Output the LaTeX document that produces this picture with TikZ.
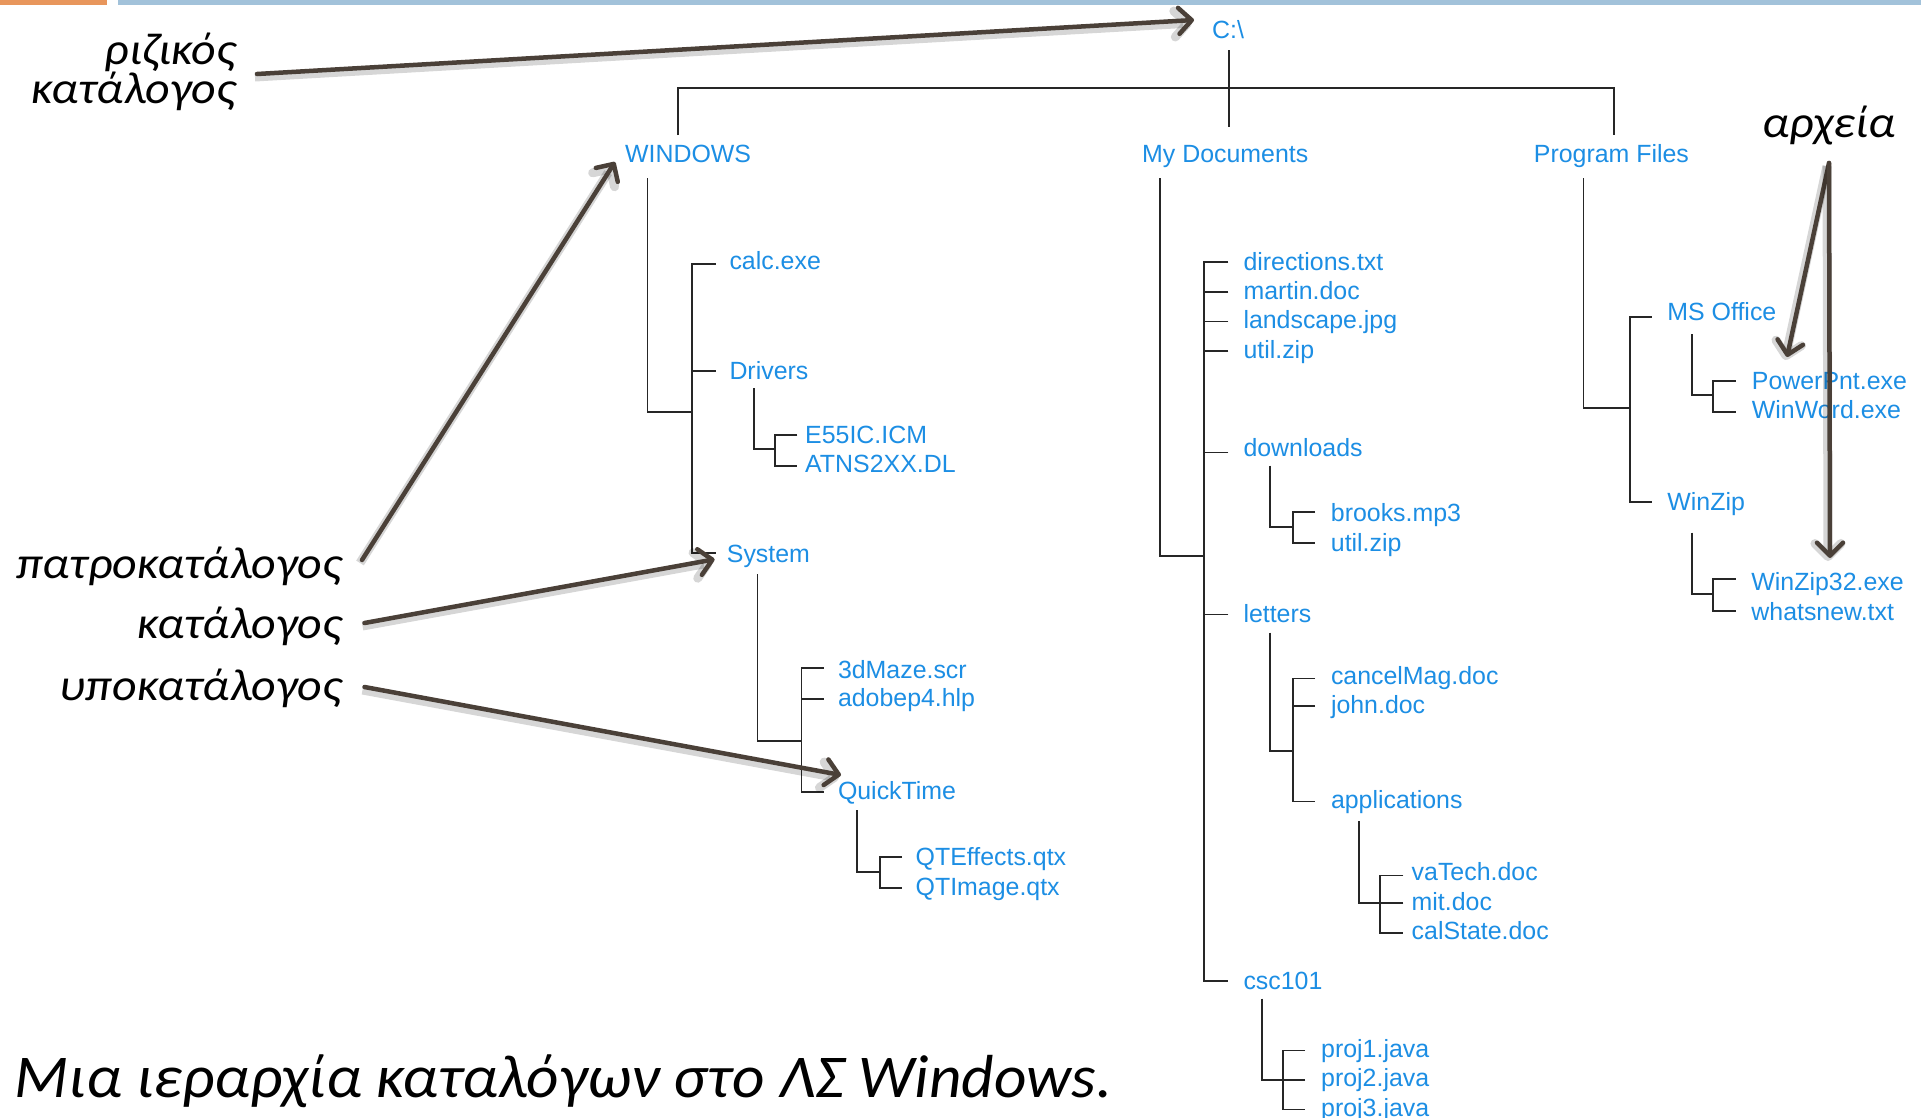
\documentclass[tikz,border=0pt]{standalone}
\usepackage{fontspec}
\setmainfont{Liberation Sans}
\newfontfamily\lblfont{Carlito}[FakeStretch=1.07]
\newfontfamily\capfont{Carlito}[FakeStretch=1.04]
\usetikzlibrary{arrows.meta}
\definecolor{itemblue}{RGB}{28,142,228}
\definecolor{arrowc}{RGB}{74,64,56}
\definecolor{treec}{RGB}{38,38,38}
\definecolor{barorange}{RGB}{232,150,92}
\definecolor{barblue}{RGB}{162,194,218}
\begin{document}
\begin{tikzpicture}[x=1bp,y=-1bp,
  tree/.style={draw=treec, line width=1.8bp},
  item/.style={anchor=west, inner xsep=15bp, inner ysep=0pt, text height=18bp, text depth=0pt,
    text=itemblue, font=\fontsize{25}{30}\selectfont},
  lbl/.style={inner sep=0pt, font=\lblfont\itshape\fontsize{45}{50}\selectfont},
  pointer/.style={draw=arrowc, line width=4.5bp, line cap=round,
    -{Straight Barb[length=13bp,width=26bp,round]},
    preaction={draw=black, draw opacity=0.16, line width=9bp,
      transform canvas={shift={(-2bp,-3bp)}}}}
]
\useasboundingbox (0,0) rectangle (1921,1117);
\fill[white] (0,0) rectangle (1921,1117);
% top bars
\fill[barorange] (0,0) rectangle (107,5);
\fill[barblue] (118,0) rectangle (1921,5);

% ---------- root and first level ----------
\node[item, inner xsep=0pt, text height=18bp] (root) at (1212,29.3) {C:\textbackslash};
\node[item, inner xsep=0pt, text height=19bp] (windows) at (625,152.5) {WINDOWS};
\node[item, inner xsep=0pt, text height=19bp] (mydocs) at (1142,152.5) {My Documents};
\node[item, inner xsep=0pt, text height=19bp] (progfiles) at (1533.7,153) {Program Files};

\coordinate (rootstem) at (1229,50);
\coordinate (rootend) at (1229,126.7);
\coordinate (windowstop) at (678,135);
\coordinate (progtop) at (1613.7,135);
\coordinate (rootbar) at (1613.7,87.7);
\draw[tree] (rootstem) -- (rootend);
\draw[tree] (windowstop) |- (rootbar) -- (progtop);

% ---------- WINDOWS ----------
\node[item, inner xsep=13.6bp, text height=10.6bp] (calc) at (715.7,264) {calc.exe};
\node[item, inner xsep=13.6bp, text height=17.2bp] (drivers) at (715.7,370.7) {Drivers};
\node[item, inner xsep=11bp, text height=18.8bp] (system) at (715.7,553.3) {System};
\coordinate (windowsstem) at (647.5,178);
\coordinate (windowselbow) at (692,411.7);
\draw[tree] (windowsstem) |- (windowselbow);
\draw[tree] (calc.west) -- ++(-23.7,0) |- (system.west);
\draw[tree] (drivers.west) -- ++(-23.7,0);

% Drivers
\node[item, inner xsep=7.7bp, text height=16.6bp] (e55) at (797.3,435) {E55IC.ICM};
\node[item, inner xsep=7.7bp, text height=13.4bp] (atns) at (797.3,466) {ATNS2XX.DL};
\coordinate (driversstem) at (754,388);
\coordinate (driverselbow) at (775.3,449.3);
\draw[tree] (driversstem) |- (driverselbow);
\draw[tree] (e55.west) -- ++(-22,0) |- (atns.west);

% System
\node[item, inner xsep=14.2bp, text height=20bp] (maze) at (823.6,668.3) {3dMaze.scr};
\node[item, inner xsep=14.2bp, text height=14.8bp] (adobe) at (823.6,699.3) {adobep4.hlp};
\node[item, inner xsep=14.2bp, text height=15.2bp] (quicktime) at (823.6,791.7) {QuickTime};
\coordinate (systemstem) at (757.4,574);
\coordinate (systemelbow) at (801.4,740.7);
\draw[tree] (systemstem) |- (systemelbow);
\draw[tree] (maze.west) -- ++(-22.2,0) |- (quicktime.west);
\draw[tree] (adobe.west) -- ++(-22.2,0);

% QuickTime
\node[item, inner xsep=13.4bp, text height=16.8bp] (qteff) at (902.1,857.3) {QTEffects.qtx};
\node[item, inner xsep=13.4bp, text height=14.8bp] (qtimg) at (902.1,888.3) {QTImage.qtx};
\coordinate (qtstem) at (857.3,810);
\coordinate (qtelbow) at (879.9,871.7);
\draw[tree] (qtstem) |- (qtelbow);
\draw[tree] (qteff.west) -- ++(-22.2,0) |- (qtimg.west);

% ---------- My Documents ----------
\node[item, text height=15.4bp] (directions) at (1228.3,262.3) {directions.txt};
\node[item, text height=15.2bp] (martin) at (1228.3,291.7) {martin.doc};
\node[item, text height=13.2bp] (landscape) at (1228.3,321.5) {landscape.jpg};
\node[item, text height=14.6bp] (utilA) at (1228.3,351) {util.zip};
\node[item, text height=7bp] (downloads) at (1228.3,452.5) {downloads};
\node[item, text height=16.8bp] (letters) at (1228.3,614.4) {letters};
\node[item, text height=16.6bp] (csc) at (1228.3,981.1) {csc101};
\coordinate (mydocsstem) at (1160,178);
\coordinate (mydocselbow) at (1204,556);
\draw[tree] (mydocsstem) |- (mydocselbow);
\draw[tree] (directions.west) -- ++(-24.3,0) |- (csc.west);
\foreach \n in {martin,landscape,utilA,downloads,letters}
  \draw[tree] (\n.west) -- ++(-24.3,0);

% downloads
\node[item, inner xsep=15.7bp, text height=18.8bp] (brooks) at (1315,512.3) {brooks.mp3};
\node[item, inner xsep=15.7bp, text height=16.8bp] (utilB) at (1315,543.3) {util.zip};
\coordinate (downloadsstem) at (1270,465.7);
\coordinate (downloadselbow) at (1292.7,526.7);
\draw[tree] (downloadsstem) |- (downloadselbow);
\draw[tree] (brooks.west) -- ++(-22.3,0) |- (utilB.west);

% letters
\node[item, inner xsep=15.8bp, text height=12bp] (cancel) at (1315,678.4) {cancelMag.doc};
\node[item, inner xsep=15.8bp, text height=14.6bp] (john) at (1315,706.2) {john.doc};
\node[item, inner xsep=15.8bp, text height=14.4bp] (applications) at (1315,801.4) {applications};
\coordinate (lettersstem) at (1270,632.5);
\coordinate (letterselbow) at (1292.9,750.7);
\draw[tree] (lettersstem) |- (letterselbow);
\draw[tree] (cancel.west) -- ++(-22.1,0) |- (applications.west);
\draw[tree] (john.west) -- ++(-22.1,0);

% applications
\node[item, inner xsep=8.1bp, text height=10.8bp] (vatech) at (1403.4,875.5) {vaTech.doc};
\node[item, inner xsep=8.1bp, text height=14.6bp] (mit) at (1403.4,903.3) {mit.doc};
\node[item, inner xsep=8.1bp, text height=14.6bp] (calstate) at (1403.4,932.6) {calState.doc};
\coordinate (appsstem) at (1358.9,821.2);
\coordinate (appselbow) at (1379.9,903.3);
\draw[tree] (appsstem) |- (appselbow);
\draw[tree] (vatech.west) -- ++(-23.5,0) |- (calstate.west);
\draw[tree] (mit.west) -- ++(-23.5,0);

% csc101
\node[item, inner xsep=15.8bp, text height=13bp] (proja) at (1305.2,1050.5) {proj1.java};
\node[item, inner xsep=15.8bp, text height=13bp] (projb) at (1305.2,1080.3) {proj2.java};
\node[item, inner xsep=15.8bp, text height=13bp] (projc) at (1305.2,1109.5) {proj3.java};
\coordinate (cscstem) at (1262,998.5);
\coordinate (cscelbow) at (1283.1,1080.3);
\draw[tree] (cscstem) |- (cscelbow);
\draw[tree] (proja.west) -- ++(-22.1,0) |- (projc.west);
\draw[tree] (projb.west) -- ++(-22.1,0);

% ---------- Program Files ----------
\node[item, inner xsep=15.5bp, text height=6.6bp] (msoffice) at (1651.7,316.7) {MS Office};
\node[item, inner xsep=15.5bp, text height=15.4bp] (winzip) at (1651.7,502.3) {WinZip};
\coordinate (progstem) at (1583.5,178);
\coordinate (progelbow) at (1630,408.3);
\draw[tree] (progstem) |- (progelbow);
\draw[tree] (msoffice.west) -- ++(-21.7,0) |- (winzip.west);

% MS Office
\node[item, inner xsep=16bp, text height=17.2bp] (powerpnt) at (1735.7,380.7) {PowerPnt.exe};
\node[item, inner xsep=16bp, text height=13.2bp] (winword) at (1735.7,411.7) {WinWord.exe};
\coordinate (msstem) at (1692.3,334);
\coordinate (mselbow) at (1713.3,395);
\draw[tree] (msstem) |- (mselbow);
\draw[tree] (powerpnt.west) -- ++(-22.4,0) |- (winword.west);

% WinZip
\node[item, inner xsep=15.5bp, text height=23.4bp] (winzipexe) at (1735.7,579) {WinZip32.exe};
\node[item, inner xsep=15.5bp, text height=20bp] (whatsnew) at (1735.7,610.7) {whatsnew.txt};
\coordinate (wzstem) at (1692.3,532.7);
\coordinate (wzelbow) at (1713.3,594.3);
\draw[tree] (wzstem) |- (wzelbow);
\draw[tree] (winzipexe.west) -- ++(-22.4,0) |- (whatsnew.west);

% ---------- labels ----------
\node[lbl, anchor=base east] (lroot1) at (236,64) {ριζικός};
\node[lbl, anchor=base east] (lroot2) at (236,103) {κατάλογος};
\node[lbl, anchor=base east] (lparent) at (342,578) {πατροκατάλογος};
\node[lbl, anchor=base east] (ldir) at (342,638) {κατάλογος};
\node[lbl, anchor=base east] (lsub) at (342,700) {υποκατάλογος};
\node[lbl, anchor=base] (lfiles) at (1829,137) {αρχεία};
\node[lbl, anchor=base west, font=\capfont\itshape\fontsize{61}{70}\selectfont] (caption) at (14.7,1097) {Μια ιεραρχία καταλόγων στο ΛΣ Windows.};

% ---------- pointer arrows ----------
\coordinate (rootfrom) at (257,74);
\coordinate (rootto) at (1194,20);
\coordinate (parentfrom) at (362,560);
\coordinate (parentto) at (615,162);
\coordinate (dirfrom) at (364.5,623);
\coordinate (dirto) at (714.6,559.3);
\coordinate (subfrom) at (364.5,687);
\coordinate (subto) at (841,775);
\coordinate (filesfrom) at (1829,163);
\coordinate (filestoA) at (1787,357);
\coordinate (filestoB) at (1830,558);
\draw[pointer] (rootfrom) -- (rootto);
\draw[pointer] (parentfrom) -- (parentto);
\draw[pointer] (dirfrom) -- (dirto);
\draw[pointer] (subfrom) -- (subto);
\draw[pointer] (filesfrom) -- (filestoA);
\draw[pointer] (filesfrom) -- (filestoB);
\end{tikzpicture}
\end{document}
